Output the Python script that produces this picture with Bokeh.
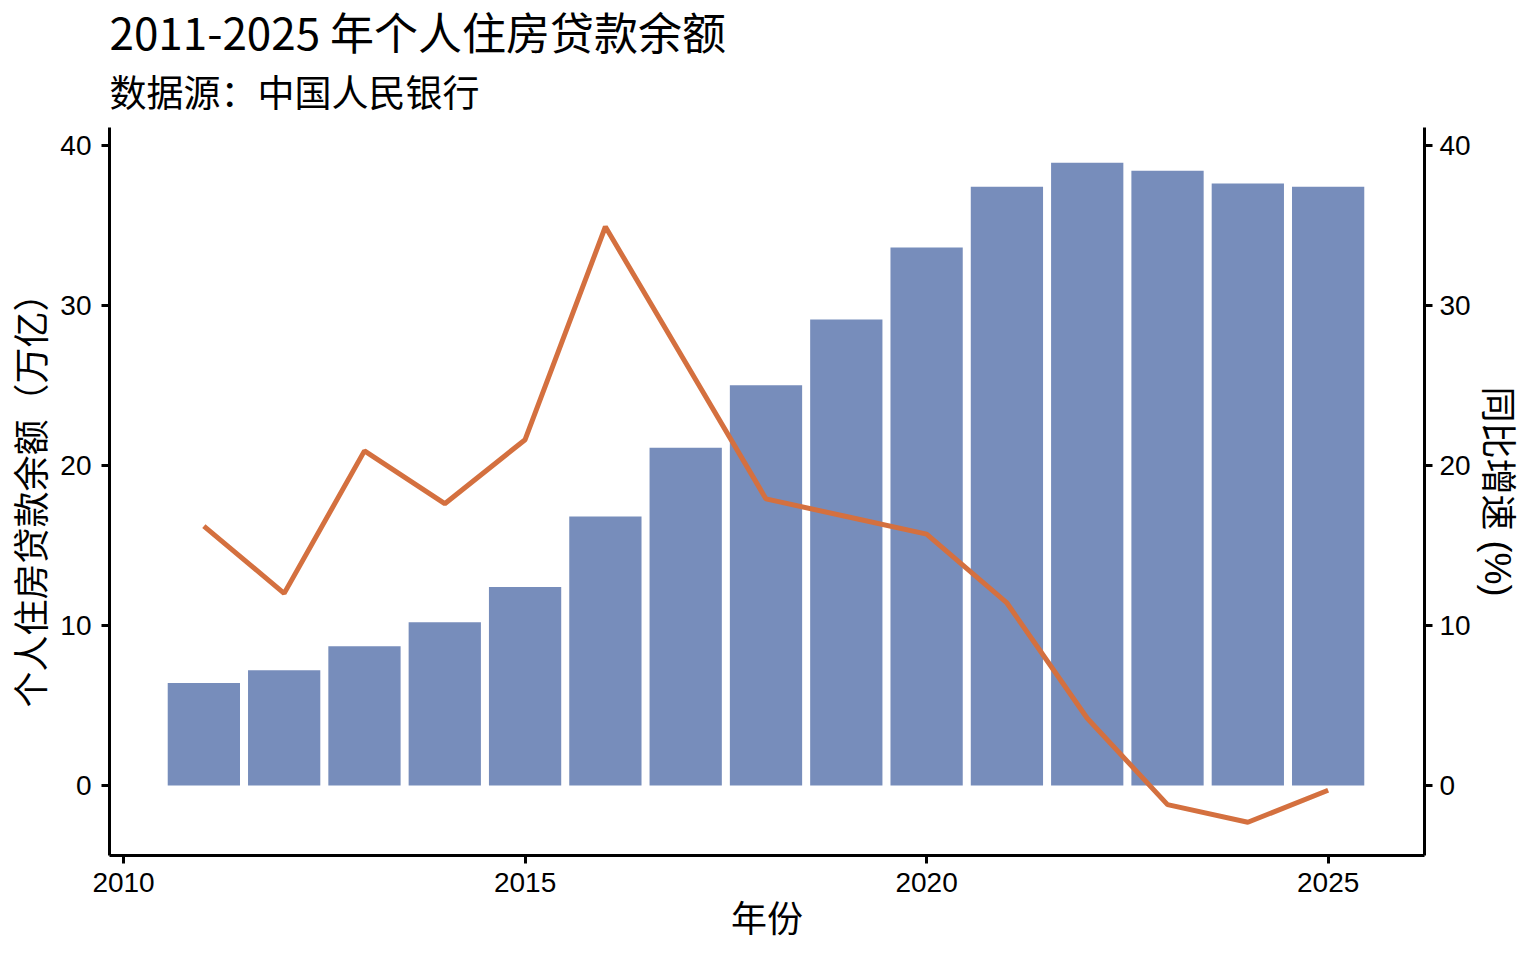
from bokeh.plotting import figure
from bokeh.models import Range1d, LinearAxis, Title, FixedTicker
from bokeh.embed import file_html
from bokeh.resources import INLINE

years = [2011, 2012, 2013, 2014, 2015, 2016, 2017, 2018, 2019, 2020, 2021, 2022, 2023, 2024, 2025]
balance = [6.4, 7.2, 8.7, 10.2, 12.4, 16.8, 21.1, 25.0, 29.1, 33.6, 37.4, 38.9, 38.4, 37.6, 37.4]
growth = [16.2, 12.0, 20.9, 17.6, 21.6, 34.9, 26.4, 17.9, 16.8, 15.7, 11.4, 4.2, -1.2, -2.3, -0.3]
x_ticks = [2010, 2015, 2020, 2025]
y_ticks = [0, 10, 20, 30, 40]

title_text = "2011-2025 年个人住房贷款余额"
subtitle_text = "数据源：中国人民银行"
ylabel_left = "个人住房贷款余额（万亿）"
ylabel_right = "同比增速 (%)"
xlabel = "年份"

CJK = "Noto Sans CJK SC"
# Latin font first keeps the text box tight; the CJK glyphs fall back to Noto
CJK_TIGHT = "Liberation Sans, Noto Sans CJK SC"
TICKF = "Liberation Sans"

p = figure(width=1520, height=944,
           x_range=Range1d(2009.825, 2026.2), y_range=Range1d(-4.375, 41.1),
           output_backend="svg", toolbar_location=None, title=title_text,
           min_border_left=104, min_border_right=96, min_border_bottom=80, min_border_top=100)
p.extra_y_ranges = {"g": Range1d(-4.375, 41.1)}

p.title.text_font = CJK
p.title.text_font_size = "44px"
p.title.text_font_style = "normal"
p.title.text_color = "black"
p.title.standoff = -7

sub = Title(text=subtitle_text, text_font=CJK_TIGHT, text_font_size="37px",
            text_font_style="normal", text_color="black", standoff=25)
p.add_layout(sub, "above")

p.vbar(x=years, top=balance, width=0.9, color="#778DBB", line_color=None)
p.line(years, growth, y_range_name="g", line_width=5, color="#D4703F")

right_axis = LinearAxis(y_range_name="g", axis_label=ylabel_right)
p.add_layout(right_axis, "right")

p.xaxis.axis_label = xlabel
p.yaxis[0].axis_label = ylabel_left
p.xaxis.ticker = FixedTicker(ticks=x_ticks)
for ax in p.yaxis:
    ax.ticker = FixedTicker(ticks=y_ticks)

for ax in p.xaxis + p.yaxis:
    ax.axis_line_width = 3
    ax.axis_line_color = "black"
    ax.major_tick_line_width = 3
    ax.major_tick_line_color = "black"
    ax.major_tick_out = 8
    ax.major_tick_in = 0
    ax.minor_tick_line_color = None
    ax.major_label_text_font = TICKF
    ax.major_label_text_font_size = "28px"
    ax.major_label_text_color = "black"
    ax.major_label_standoff = 8
    ax.axis_label_text_font = CJK
    ax.axis_label_text_font_size = "36px"
    ax.axis_label_text_font_style = "normal"
    ax.axis_label_text_color = "black"
    ax.axis_label_standoff = 8

p.yaxis[0].major_label_standoff = 10
p.yaxis[0].axis_label_standoff = 2
p.xaxis.major_label_standoff = 9
p.xaxis.axis_label_standoff = -5
right_axis.major_label_standoff = 7
right_axis.axis_label_text_font = CJK_TIGHT
right_axis.axis_label_standoff = 3

p.xgrid.visible = False
p.ygrid.visible = False
p.outline_line_color = None
p.background_fill_color = "white"
p.border_fill_color = "white"

open("out.html", "w").write(file_html(p, INLINE))
